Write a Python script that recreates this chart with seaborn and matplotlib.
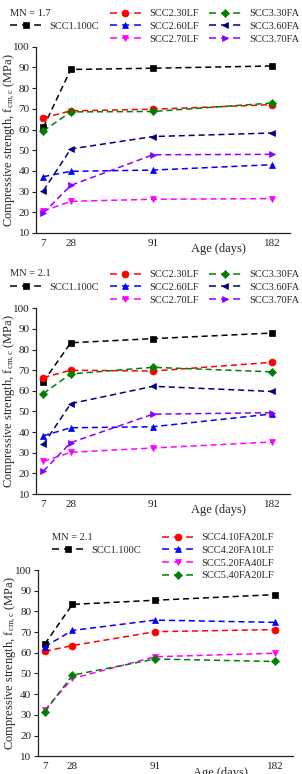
"""
Compressive strength development of SCC mixes (three stacked panels).
"""

import matplotlib
matplotlib.use("Agg")
import matplotlib.pyplot as plt
import seaborn as sns
from matplotlib.lines import Line2D

# Ages (days)
AGES = [7, 28, 91, 182]

# Panel 1, MN = 1.7
P1_SCC1_100C = [61, 89, 89.6, 90.7]
P1_SCC2_30LF = [65.6, 69, 69.8, 72]
P1_SCC2_60LF = [37.2, 39.8, 40.4, 43]
P1_SCC2_70LF = [20.6, 25.3, 26.3, 26.6]
P1_SCC3_30FA = [59.3, 68.5, 68.7, 72.8]
P1_SCC3_60FA = [30.4, 50.6, 56.6, 58.3]
P1_SCC3_70FA = [19.6, 33, 47.8, 48]

# Panel 2, MN = 2.1
P2_SCC1_100C = [64.4, 83.3, 85.3, 88]
P2_SCC2_30LF = [66.4, 70, 69.6, 73.8]
P2_SCC2_60LF = [38.2, 42.1, 42.6, 48.8]
P2_SCC2_70LF = [25.8, 30.2, 32.3, 35.2]
P2_SCC3_30FA = [58.7, 68.2, 71.4, 69.2]
P2_SCC3_60FA = [34, 53.8, 62.2, 59.7]
P2_SCC3_70FA = [21.1, 34.9, 48.7, 49.4]

# Panel 3, MN = 2.1
P3_SCC1_100C = [64.3, 83.4, 85.4, 88.1]
P3_SCC4_10FA20LF = [60.7, 63.5, 70.2, 71.2]
P3_SCC4_20FA10LF = [63, 70.8, 75.8, 74.7]
P3_SCC5_20FA40LF = [32.4, 47.6, 58.1, 59.8]
P3_SCC5_40FA20LF = [31.6, 49.2, 57, 55.8]

PANEL1 = {
    "SCC1.100C": P1_SCC1_100C, "SCC2.30LF": P1_SCC2_30LF, "SCC2.60LF": P1_SCC2_60LF,
    "SCC2.70LF": P1_SCC2_70LF, "SCC3.30FA": P1_SCC3_30FA, "SCC3.60FA": P1_SCC3_60FA,
    "SCC3.70FA": P1_SCC3_70FA,
}
PANEL2 = {
    "SCC1.100C": P2_SCC1_100C, "SCC2.30LF": P2_SCC2_30LF, "SCC2.60LF": P2_SCC2_60LF,
    "SCC2.70LF": P2_SCC2_70LF, "SCC3.30FA": P2_SCC3_30FA, "SCC3.60FA": P2_SCC3_60FA,
    "SCC3.70FA": P2_SCC3_70FA,
}
PANEL3 = {
    "SCC1.100C": P3_SCC1_100C, "SCC4.10FA20LF": P3_SCC4_10FA20LF,
    "SCC4.20FA10LF": P3_SCC4_20FA10LF, "SCC5.20FA40LF": P3_SCC5_20FA40LF,
    "SCC5.40FA20LF": P3_SCC5_40FA20LF,
}

# colour, marker, marker size
STYLES = {
    "SCC1.100C": ("#000000", "s", 4.5),
    "SCC2.30LF": ("#ff0000", "o", 5),
    "SCC2.60LF": ("#0000ff", "^", 5),
    "SCC2.70LF": ("#ff00ff", "v", 5),
    "SCC3.30FA": ("#008000", "D", 4),
    "SCC3.60FA": ("#000080", "<", 5),
    "SCC3.70FA": ("#8a00ff", ">", 5),
    "SCC4.10FA20LF": ("#ff0000", "o", 5),
    "SCC4.20FA10LF": ("#0000ff", "^", 5),
    "SCC5.20FA40LF": ("#ff00ff", "v", 5),
    "SCC5.40FA20LF": ("#008000", "D", 4),
}

FS = 7.5
W, H = 302, 774
LW = 1.1

sns.set_style("ticks")
plt.rcParams["font.family"] = ["Liberation Serif", "DejaVu Serif"]
plt.rcParams["mathtext.fontset"] = "custom"
plt.rcParams["mathtext.rm"] = "Liberation Serif"
plt.rcParams["mathtext.it"] = "Liberation Serif:italic"


def draw_panel(ax, series):
    for name, vals in series.items():
        color, marker, ms = STYLES[name]
        sns.lineplot(
            x=AGES, y=vals, ax=ax, color=color, marker=marker, markersize=ms,
            markeredgecolor=color, markeredgewidth=0.5, linestyle=(0, (4, 2.5)),
            linewidth=LW, label=name, legend=False, errorbar=None,
        )
    ax.set_xlim(1.4, 195.8)
    ax.set_ylim(10, 100)
    ax.set_xticks(AGES)
    ax.set_yticks(range(10, 101, 10))
    ax.tick_params(axis="x", length=0, pad=4, labelsize=8, colors="#222222")
    ax.tick_params(axis="y", length=3, width=0.8, pad=1.5, labelsize=8, colors="#222222")
    for side in ("top", "right"):
        ax.spines[side].set_visible(False)
    for side in ("left", "bottom"):
        ax.spines[side].set_linewidth(0.9)
        ax.spines[side].set_color("#222222")
    ax.set_xlabel("Age (days)", fontsize=9)
    ax.xaxis.set_label_coords(0.717, -0.055)
    ax.set_ylabel(r"Compressive strength, f$_{\mathregular{cm,c}}$ (MPa)", fontsize=9)
    ax.yaxis.set_label_coords(-0.075, 0.5)
    # legend proxies: dash - marker - dash
    handles = {}
    for name in series:
        color, marker, ms = STYLES[name]
        handles[name] = Line2D([], [], color=color, marker=marker, markersize=ms,
                               markeredgecolor=color, markeredgewidth=0.5,
                               linestyle=(0, (4.6, 3.3)), linewidth=LW)
    return handles


def px_axes(left, right, top, bottom):
    return [left / W, 1 - bottom / H, (right - left) / W, (bottom - top) / H]


fig = plt.figure(figsize=(W / 100, H / 100), dpi=100)
ax1 = fig.add_axes(px_axes(36, 290, 46.7, 233))
ax2 = fig.add_axes(px_axes(36, 290, 308.3, 494))
ax3 = fig.add_axes(px_axes(37.5, 293, 570, 756.3))

blank = Line2D([], [], linestyle="none", marker="")
leg_kw = dict(loc="upper left", frameon=False, fontsize=FS, borderaxespad=0, borderpad=0,
              handlelength=3.0, handletextpad=0.8, labelspacing=0.33)

for ax, data, mn, ytop in [(ax1, PANEL1, "MN = 1.7", 13), (ax2, PANEL2, "MN = 2.1", 274)]:
    h = draw_panel(ax, data)
    order = [None, "SCC1.100C", None, "SCC2.30LF", "SCC2.60LF", "SCC2.70LF",
             "SCC3.30FA", "SCC3.60FA", "SCC3.70FA"]
    handles = [blank if k is None else h[k] for k in order]
    labels = [" " if k is None else k for k in order]
    fig.legend(handles, labels, ncol=3, columnspacing=1.0,
               bbox_to_anchor=(10 / W, 1 - (ytop - 4) / H), **leg_kw)
    fig.text(10 / W, 1 - ytop / H, mn, fontsize=FS, va="center", ha="left")

h3 = draw_panel(ax3, PANEL3)
order3 = [None, "SCC1.100C", None, None, "SCC4.10FA20LF", "SCC4.20FA10LF",
          "SCC5.20FA40LF", "SCC5.40FA20LF"]
fig.legend([blank if k is None else h3[k] for k in order3],
           [" " if k is None else k for k in order3],
           ncol=2, columnspacing=2.0,
           bbox_to_anchor=(52 / W, 1 - (537 - 4) / H), **leg_kw)
fig.text(52 / W, 1 - 537 / H, "MN = 2.1", fontsize=FS, va="center", ha="left")

fig.savefig("out.png", dpi=100)
